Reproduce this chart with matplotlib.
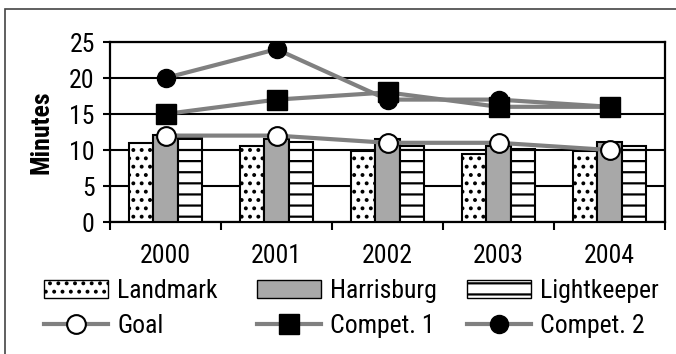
import matplotlib
matplotlib.use("Agg")
import matplotlib.pyplot as plt
import matplotlib.hatch as mhatch
from matplotlib.patches import Patch, Rectangle
from matplotlib.lines import Line2D
import numpy as np

# horizontal hatch with ~11px spacing (9 lines per inch)
_orig_hh = mhatch.HorizontalHatch.__init__
def _hh_init(self, hatch, density):
    _orig_hh(self, hatch, 9)
mhatch.HorizontalHatch.__init__ = _hh_init

plt.rcParams['font.family'] = ['Roboto Condensed', 'Archivo Narrow', 'DejaVu Sans']
plt.rcParams['hatch.linewidth'] = 1.6

years = ["2000", "2001", "2002", "2003", "2004"]
landmark = [11.0, 10.5, 9.8, 9.5, 9.8]
harrisburg = [12.1, 11.5, 11.5, 10.6, 11.1]
lightkeeper = [11.6, 11.1, 10.6, 10.1, 10.5]
goal = [12, 12, 11, 11, 10]
compet1 = [15, 17, 18, 16, 16]
compet2 = [20, 24, 17, 17, 16]
yticks = [0, 5, 10, 15, 20, 25]

W, H = 676, 354
fig = plt.figure(figsize=(W / 100, H / 100), dpi=100)
fig.patch.set_facecolor('white')

# outer frame
fig.add_artist(Rectangle((5 / W, -0.05), 1.2, (H - 9) / H + 0.05, transform=fig.transFigure,
                         fill=False, edgecolor='#444444', linewidth=1.2))

ax = fig.add_axes([110 / W, 1 - 222 / H, (665 - 110) / W, (222 - 42) / H])
x = np.arange(len(years))
bw = 0.22
fs = 18.5
gray_fill = '#a8a8a8'
lc = '#808080'

ax.bar(x - bw, landmark, bw, facecolor='white', edgecolor='black', hatch='..', linewidth=1.5, zorder=3)
ax.bar(x, harrisburg, bw, facecolor=gray_fill, edgecolor='black', linewidth=1.5, zorder=3)
ax.bar(x + bw, lightkeeper, bw, facecolor='white', edgecolor='black', hatch='-', linewidth=1.5, zorder=3)

mk = dict(ms=13.5, mec='black', mew=1.5)
ax.plot(x, goal, color=lc, lw=3, marker='o', mfc='white', zorder=5, **mk)
ax.plot(x, compet2, color=lc, lw=3, marker='o', mfc='black', zorder=5, ms=13, mec='black', mew=1.0)
ax.plot(x, compet1, color=lc, lw=3, marker='s', mfc='black', zorder=6, ms=14, mec='black')

ax.set_xlim(-0.5, len(years) - 0.5)
ax.set_ylim(0, 25)
ax.set_yticks(yticks)
ax.set_yticklabels([str(v) for v in yticks], fontsize=fs)
ax.yaxis.grid(True, color='black', linewidth=1.5, zorder=0)
ax.set_axisbelow(True)

ax.set_xticks(x)
ax.set_xticklabels(years, fontsize=fs)
ax.tick_params(axis='x', length=0, pad=16)
ax.set_xticks(np.arange(-0.5, len(years), 1.0), minor=True)
ax.tick_params(axis='x', which='minor', length=5.5, width=1.5, direction='out')
ax.tick_params(axis='y', length=5, width=1.5, direction='out', pad=6)
for s in ['left', 'right', 'bottom', 'top']:
    ax.spines[s].set_linewidth(1.6)
    ax.spines[s].set_color('black')
ax.set_ylabel('Minutes', fontsize=fs, fontweight='bold')
ax.yaxis.set_label_coords((53 - 110) / 555, 0.5)

# legend columns
h_land = Patch(facecolor='white', edgecolor='black', hatch='..', linewidth=1.0)
h_harr = Patch(facecolor=gray_fill, edgecolor='black', linewidth=1.0)
h_light = Patch(facecolor='white', edgecolor='black', hatch='-', linewidth=1.0)
h_goal = Line2D([], [], color=lc, lw=3, marker='o', mfc='white', **mk)
h_c1 = Line2D([], [], color=lc, lw=3, marker='s', mfc='black', ms=14, mec='black')
h_c2 = Line2D([], [], color=lc, lw=3, marker='o', mfc='black', ms=13, mec='black', mew=1.0)

cols = [([h_land, h_goal], ['Landmark', 'Goal'], 44),
        ([h_harr, h_c1], ['Harrisburg', 'Compet. 1'], 257),
        ([h_light, h_c2], ['Lightkeeper', 'Compet. 2'], 467)]
for hs, ls, px in cols:
    fig.legend(hs, ls, loc='upper left', bbox_to_anchor=(px / W, 1 - 279 / H),
               frameon=False, fontsize=fs, handlelength=2.5, handleheight=0.7,
               handletextpad=0.35, labelspacing=0.43, borderpad=0, borderaxespad=0)

fig.savefig('out.png', dpi=100)
